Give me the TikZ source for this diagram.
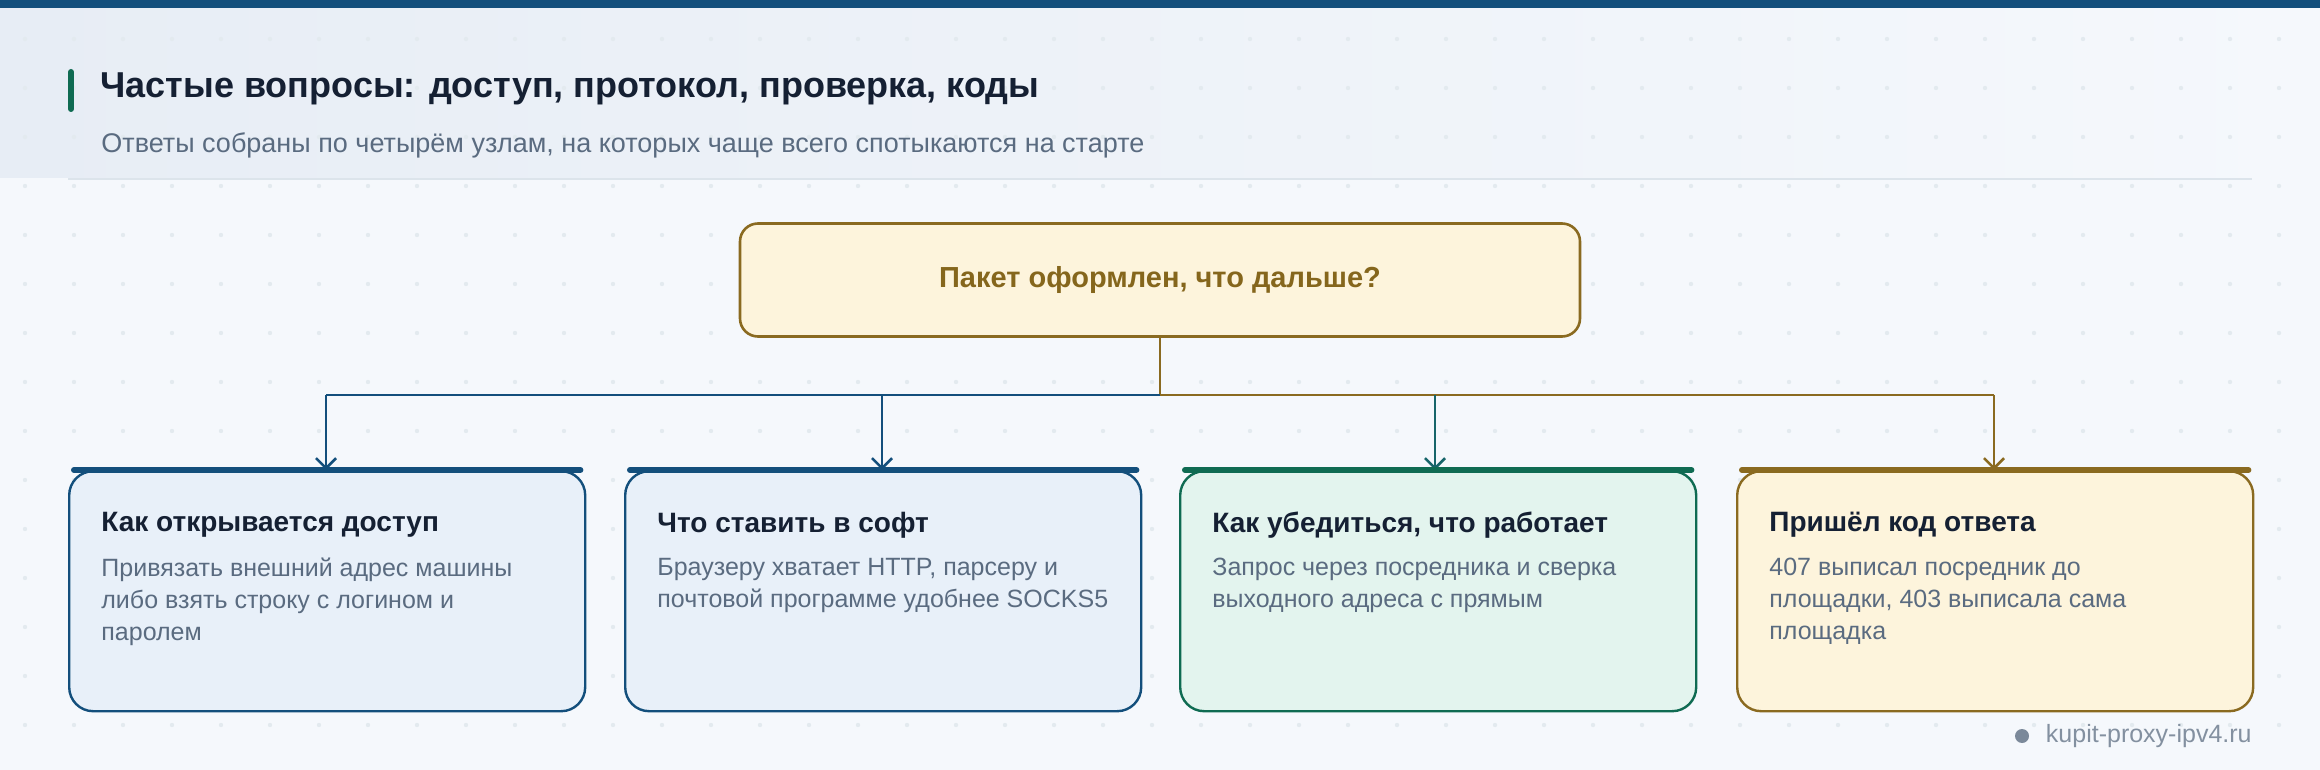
\documentclass[tikz,border=0pt]{standalone}
\usepackage{fontspec}
\setmainfont{Liberation Sans}
\usetikzlibrary{arrows.meta}
\definecolor{bg}{HTML}{F5F8FC}
\definecolor{band}{HTML}{E7EDF5}
\definecolor{navy}{HTML}{134F7C}
\definecolor{grn}{HTML}{0F6B52}
\definecolor{brn}{HTML}{8A6A20}
\definecolor{brntxt}{HTML}{85661C}
\definecolor{ink}{HTML}{152033}
\definecolor{body}{HTML}{5A6B80}
\definecolor{fblue}{HTML}{E8F0F9}
\definecolor{fgrn}{HTML}{E3F4EE}
\definecolor{fyel}{HTML}{FDF4DC}
\definecolor{teal}{HTML}{17656A}
\tikzset{
  card/.style={draw=#1, line width=1.2pt, rounded corners=12pt, minimum width=258pt, minimum height=120pt, anchor=north west},
  bar/.style={line width=3pt, line cap=round, #1},
  ctitle/.style={anchor=west, font=\fontsize{14}{16}\selectfont\bfseries, text=ink, inner sep=0},
  cbody/.style={anchor=north west, font=\fontsize{12.5}{16}\selectfont, text=body, inner sep=0, align=left},
  link/.style={line width=1.3pt, #1},
  tip/.style={line width=1.3pt, #1, -{Straight Barb[length=5pt,width=10pt]}}
}
\begin{document}
\begin{tikzpicture}[x=0.5pt,y=-0.5pt]
\useasboundingbox (0,0) rectangle (2320,770);
\fill[bg] (0,0) rectangle (2320,770);
\shade[left color=band, right color=bg] (0,8) rectangle (2320,178);
\foreach \i in {0,...,47} \foreach \j in {1,...,15} \fill[navy!12] (\i*49+25,\j*49-10) circle (1.1pt);
\fill[navy] (0,0) rectangle (2320,8);
\draw[navy!15, line width=1pt] (68,179) -- (2252,179);
\draw[grn, line width=3pt, line cap=round] (71,72) -- (71,109);
\node[anchor=west, inner sep=0, font=\fontsize{18}{20}\selectfont\bfseries, text=ink] (title) at (100,89) {Частые вопросы: доступ, протокол, проверка, коды};
\node[anchor=west, inner sep=0, font=\fontsize{13.5}{15}\selectfont, text=body] (sub) at (101,145) {Ответы собраны по четырём узлам, на которых чаще всего спотыкаются на старте};
\node[draw=brn, fill=fyel, line width=1.3pt, rounded corners=9pt, minimum width=420pt, minimum height=56.5pt, font=\fontsize{14.5}{16}\selectfont\bfseries, text=brntxt] (top) at (1160,280) {Пакет оформлен, что дальше?};
\coordinate (j) at (1160,395);
\coordinate (h1) at (326,395); \coordinate (h2) at (882,395);
\coordinate (h3) at (1435,395); \coordinate (h4) at (1994,395);
\node[card=navy, fill=fblue] (c1) at (68,470) {};
\node[card=navy, fill=fblue] (c2) at (624,470) {};
\node[card=grn, fill=fgrn] (c3) at (1179,470) {};
\node[card=brn, fill=fyel] (c4) at (1736,470) {};
\draw[link=brn] (top.south) -- (j);
\draw[link=navy] (j) -- (h1);
\draw[link=brn] (j) -- (h4);
\draw[tip=navy] (h1) -- (h1 |- c1.north);
\draw[tip=navy] (h2) -- (h2 |- c2.north);
\draw[tip=teal] (h3) -- (h3 |- c3.north);
\draw[tip=brn] (h4) -- (h4 |- c4.north);
\foreach \c/\col in {c1/navy,c2/navy,c3/grn,c4/brn}
  \draw[bar=\col] ([xshift=3pt]\c.north west) -- ([xshift=-3pt]\c.north east);
\node[ctitle] (t1) at (101,525) {Как открывается доступ};
\node[cbody] (b1) at (101,558) {Привязать внешний адрес машины\\либо взять строку с логином и\\паролем};
\node[ctitle] (t2) at (657,525) {Что ставить в софт};
\node[cbody] (b2) at (657,558) {Браузеру хватает HTTP, парсеру и\\почтовой программе удобнее SOCKS5};
\node[ctitle] (t3) at (1212,525) {Как убедиться, что работает};
\node[cbody] (b3) at (1212,558) {Запрос через посредника и сверка\\выходного адреса с прямым};
\node[ctitle] (t4) at (1769,525) {Пришёл код ответа};
\node[cbody] (b4) at (1769,558) {407 выписал посредник до\\площадки, 403 выписала сама\\площадка};
\fill[body!80] (2022,736) circle (3.5pt) coordinate (dot);
\node[anchor=east, inner sep=0, font=\fontsize{12.5}{14}\selectfont, text=body!75] (foot) at (2252,736) {kupit-proxy-ipv4.ru};
\end{tikzpicture}
\end{document}
